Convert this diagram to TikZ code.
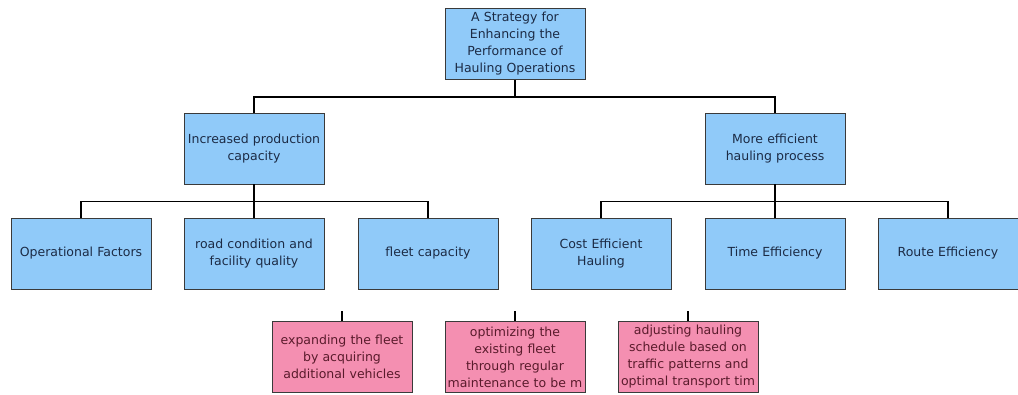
\documentclass[tikz,border=0pt]{standalone}
\usepackage{fontspec}
\setmainfont{DejaVu Sans}
\definecolor{bluefill}{HTML}{90CAF9}
\definecolor{pinkfill}{HTML}{F48FB1}
\definecolor{boxline}{HTML}{3A3A3A}
\definecolor{bluetext}{HTML}{1C2B45}
\definecolor{pinktext}{HTML}{5A1B2C}
\begin{document}
\begin{tikzpicture}[x=1pt,y=-1pt,
  bbox/.style={draw=boxline,line width=0.9pt,minimum width=140pt,minimum height=71pt,
    text width=140pt,align=center,inner sep=0pt,font=\fontsize{12.5}{17}\selectfont},
  bluebox/.style={bbox,fill=bluefill,text=bluetext},
  pinkbox/.style={bbox,fill=pinkfill,text=pinktext},
  conn/.style={draw=black,line width=1.6pt}]
\useasboundingbox (0,0) rectangle (1018,394);
\node[bluebox] (root) at (515,44) {A Strategy for\\Enhancing the\\Performance of\\Hauling Operations};
\node[bluebox] (ipc) at (254,148.5) {Increased production\\capacity};
\node[bluebox] (meh) at (775,148.5) {More efficient\\hauling process};
\node[bluebox] (of) at (81,253.5) {Operational Factors};
\node[bluebox] (rc) at (254,253.5) {road condition and\\facility quality};
\node[bluebox] (fc) at (428,253.5) {fleet capacity};
\node[bluebox] (ce) at (601,253.5) {Cost Efficient\\Hauling};
\node[bluebox] (te) at (775,253.5) {Time Efficiency};
\node[bluebox] (re) at (948,253.5) {Route Efficiency};
\node[pinkbox] (p1) at (342,357) {expanding the fleet\\by acquiring\\additional vehicles};
\node[pinkbox] (p2) at (515,357) {optimizing the\\existing fleet\\through regular\\maintenance to be m};
\node[pinkbox] (p3) at (688,357) {adjusting hauling\\schedule based on\\traffic patterns and\\optimal transport tim};
% connectors
\draw[conn] (root.south) -- ++(0,17) -| (ipc.north);
\draw[conn] (root.south) -- ++(0,17) -| (meh.north);
\draw[conn] (ipc.south) -- ++(0,17) -| (of.north);
\draw[conn] (ipc.south) -- (rc.north);
\draw[conn] (ipc.south) -- ++(0,17) -| (fc.north);
\draw[conn] (meh.south) -- ++(0,17) -| (ce.north);
\draw[conn] (meh.south) -- (te.north);
\draw[conn] (meh.south) -- ++(0,17) -| (re.north);
\coordinate (s1) at (342,311);
\coordinate (s2) at (515,311);
\coordinate (s3) at (688,311);
\draw[conn] (s1) -- (p1.north);
\draw[conn] (s2) -- (p2.north);
\draw[conn] (s3) -- (p3.north);
\end{tikzpicture}
\end{document}
